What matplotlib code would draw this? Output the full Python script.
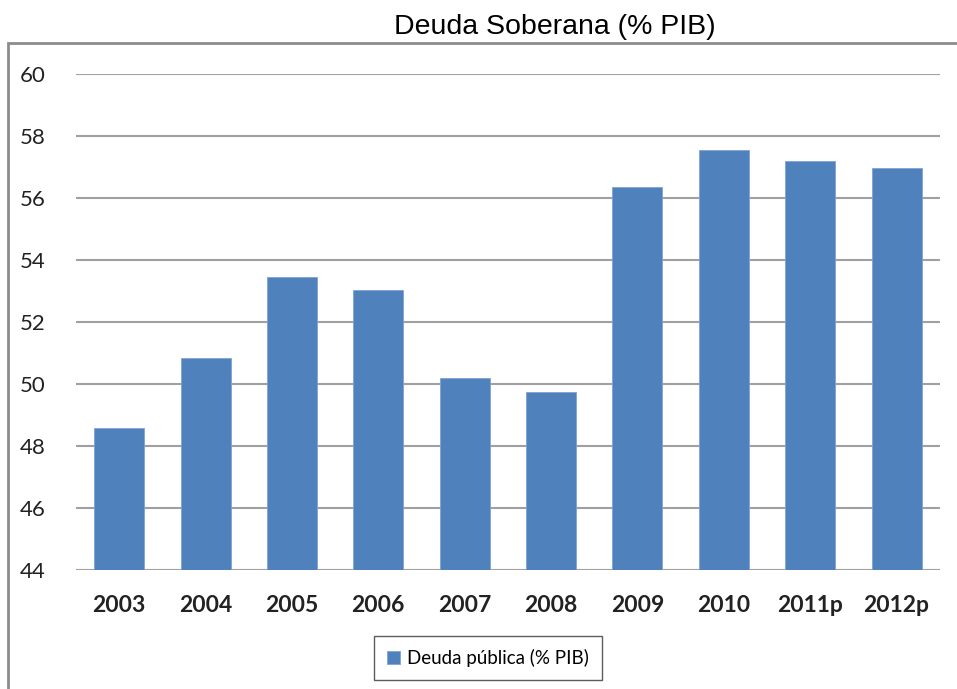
import matplotlib.pyplot as plt
from matplotlib.patches import Rectangle

# datos
years = ['2003', '2004', '2005', '2006', '2007', '2008', '2009', '2010', '2011p', '2012p']
deuda = [48.58, 50.84, 53.45, 53.03, 50.19, 49.74, 56.35, 57.55, 57.19, 56.97]
yticks = [44, 46, 48, 50, 52, 54, 56, 58, 60]

fig = plt.figure(figsize=(9.57, 6.89), dpi=100)
ax = fig.add_axes([0.0794, 0.1727, 0.9026, 0.7199])

x = range(len(years))
ax.bar(x, deuda, width=0.58, color='#4F81BD', edgecolor='#7FA3D3', linewidth=0.6,
       label='Deuda pública (% PIB)', zorder=3)

ax.set_ylim(44, 60)
ax.set_xlim(-0.5, 9.5)
ax.set_yticks(yticks)
ax.set_xticks(list(x))
ax.set_xticklabels(years, fontsize=16.5, fontweight='bold', family=['Lato', 'DejaVu Sans'])
ax.set_yticklabels([str(t) for t in yticks], fontsize=16, family=['Lato', 'DejaVu Sans'])
ax.tick_params(axis='both', length=0, colors='#222222')
ax.tick_params(axis='y', pad=22)
ax.tick_params(axis='x', pad=18)
ax.grid(axis='y', color='#A0A0A0', linewidth=1.5, zorder=0)
for s in ax.spines.values():
    s.set_visible(False)

leg = ax.legend(loc='upper center', bbox_to_anchor=(0.477, -0.133), ncol=1, frameon=True,
                fancybox=False, edgecolor='#333333', handlelength=0.7, handleheight=0.7,
                handletextpad=0.35, borderpad=0.7, borderaxespad=0,
                prop={'family': ['Lato', 'DejaVu Sans'], 'size': 13.5})
leg.get_frame().set_linewidth(1.0)

# marco exterior
fig.patches.append(Rectangle((8 / 957, -0.05), 1.1, 1 - 43 / 689 + 0.05, transform=fig.transFigure,
                             fill=False, edgecolor='#8C8C8C', linewidth=2))

fig.text(555 / 957, 1 - 27 / 689, 'Deuda Soberana (% PIB)', ha='center', va='center', fontsize=20.5,
         family=['Liberation Sans Narrow', 'Liberation Sans', 'DejaVu Sans'], color='black')

fig.savefig('out.png', dpi=100)
